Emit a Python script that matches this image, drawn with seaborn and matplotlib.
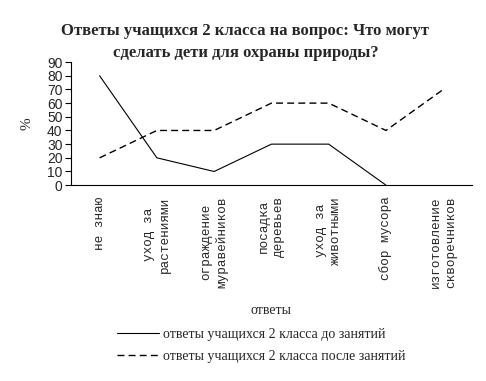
import numpy as np
import matplotlib
matplotlib.use("Agg")
import matplotlib.pyplot as plt
import seaborn as sns
from matplotlib.lines import Line2D

# данные
categories = ["не знаю", "уход за\nрастениями", "ограждение\nмуравейников",
              "посадка\nдеревьев", "уход за\nживотными", "сбор мусора",
              "изготовление\nскворечников"]
before = [80, 20, 10, 30, 30, 0]
after = [20, 40, 40, 60, 60, 40, 70]
series_names = ["ответы учащихся 2 класса до занятий",
                "ответы учащихся 2 класса после занятий"]
y_ticks = list(range(0, 100, 10))

sns.set_style("white")
plt.rcParams['font.family'] = ['Liberation Serif', 'DejaVu Serif']

fig = plt.figure(figsize=(4.86, 3.81), dpi=100)
ax = fig.add_axes([0.146, 0.514, 0.825, 0.323])

dash = (0, (5, 3))
sns.lineplot(x=categories, y=after, ax=ax, color="black", linewidth=1.0,
             linestyle=dash, sort=False)
sns.lineplot(x=categories[:len(before)], y=before, ax=ax, color="black",
             linewidth=0.8, sort=False)

ax.set_xlim(-0.5, len(categories) - 0.5)
ax.set_ylim(0, 90)
ax.set_yticks(y_ticks)
ax.set_yticklabels([str(v) for v in y_ticks], family="Liberation Sans", fontsize=10)
ax.set_xticks(range(len(categories)))
ax.set_xticklabels(categories, rotation=90, va="top", ha="center",
                   family="Liberation Mono", fontsize=9.2, linespacing=1.35)
ax.set_xticks(np.arange(-0.5, len(categories)), minor=True)
ax.tick_params(axis="x", which="major", length=0, pad=8)
ax.tick_params(axis="x", which="minor", length=4, width=0.8, direction="out", color="black")
ax.tick_params(axis="y", length=4, width=0.8, direction="out", color="black", pad=2, left=True)

for s in ["top", "right"]:
    ax.spines[s].set_visible(False)
for s in ["left", "bottom"]:
    ax.spines[s].set_color("black")
    ax.spines[s].set_linewidth(0.8)

ax.set_ylabel("%", fontsize=11, labelpad=10)
ax.set_xlabel("ответы", fontsize=10, labelpad=12)
fig.suptitle("Ответы учащихся 2 класса на вопрос: Что могут\nсделать дети для охраны природы?",
             fontsize=12, fontweight="bold", y=0.94, x=0.505, linespacing=1.55)

handles = [Line2D([], [], color="black", linewidth=0.8),
           Line2D([], [], color="black", linewidth=1.0, linestyle=dash)]
fig.legend(handles, series_names, loc="upper left", bbox_to_anchor=(0.23, 0.155),
           frameon=False, fontsize=10, handlelength=3.0, handletextpad=0.3,
           labelspacing=0.65, borderaxespad=0)

fig.savefig("out.png", dpi=100)
